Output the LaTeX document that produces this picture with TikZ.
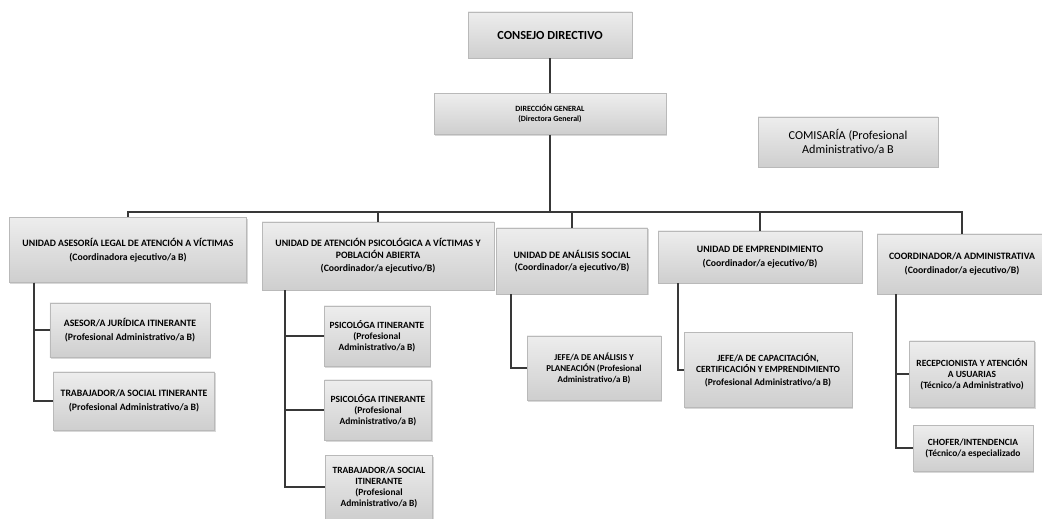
\documentclass[tikz,border=0pt]{standalone}
\usepackage{fontspec}
\setmainfont{Carlito}
\usetikzlibrary{shadows}

\begin{document}
\begin{tikzpicture}
[-,x=1bp,y=-1bp,%
  lineDecorate/.style={-,line width=2.2bp,draw=black!78},%
  boxDecorate/.style={shape=rectangle,draw=gray!55,top color=gray!14,bottom color=gray!38,%
    drop shadow={opacity=0.3,shadow xshift=1bp,shadow yshift=-1.5bp},%
    align=center,inner sep=2pt,font=\fontsize{9.8}{11.5}\selectfont\bfseries},%
  smallBox/.style={boxDecorate,font=\fontsize{9.5}{11}\selectfont\bfseries}]
\fill[white] (0,0) rectangle (1042,519);
\useasboundingbox (0,0) rectangle (1042,519);
%% top of the chart
\node[boxDecorate,minimum width=164bp,minimum height=46bp,font=\fontsize{12.4}{14}\selectfont\bfseries]
  (consejo) at (550,35) {CONSEJO DIRECTIVO};
\node[boxDecorate,minimum width=232bp,minimum height=41bp,font=\fontsize{8}{10}\selectfont\bfseries]
  (direccion) at (550,114) {DIRECCIÓN GENERAL\\(Directora General)};
\node[boxDecorate,minimum width=180bp,minimum height=50bp,font=\fontsize{12.2}{14}\selectfont]
  (comisaria) at (848,142) {COMISARÍA (Profesional\\Administrativo/a B};
%% units
\node[boxDecorate,minimum width=237bp,minimum height=65bp] (u1) at (128,250)
  {UNIDAD ASESORÍA LEGAL DE ATENCIÓN A VÍCTIMAS\\[3pt](Coordinadora ejecutivo/a B)};
\node[boxDecorate,minimum width=232bp,minimum height=68bp] (u2) at (378,256)
  {UNIDAD DE ATENCIÓN PSICOLÓGICA A VÍCTIMAS Y\\POBLACIÓN ABIERTA\\[2pt](Coordinador/a ejecutivo/B)};
\node[boxDecorate,minimum width=151bp,minimum height=66bp] (u3) at (572,261)
  {UNIDAD DE ANÁLISIS SOCIAL\\(Coordinador/a ejecutivo/B)};
\node[boxDecorate,minimum width=204bp,minimum height=52bp] (u4) at (760,257)
  {UNIDAD DE EMPRENDIMIENTO\\[2pt](Coordinador/a ejecutivo/B)};
\node[boxDecorate,minimum width=170bp,minimum height=60bp] (u5) at (962,264)
  {COORDINADOR/A ADMINISTRATIVA\\[2pt](Coordinador/a ejecutivo/B)};
%% posts
\node[boxDecorate,minimum width=160bp,minimum height=54bp] (a1) at (130,330)
  {ASESOR/A JURÍDICA ITINERANTE\\[2pt](Profesional Administrativo/a B)};
\node[boxDecorate,minimum width=161bp,minimum height=58bp] (a2) at (134,401)
  {TRABAJADOR/A SOCIAL ITINERANTE\\[2pt](Profesional Administrativo/a B)};
\node[smallBox,minimum width=106bp,minimum height=60bp] (b1) at (377,336)
  {PSICOLÓGA ITINERANTE\\(Profesional\\Administrativo/a B)};
\node[smallBox,minimum width=107bp,minimum height=60bp] (b2) at (378,410)
  {PSICOLÓGA ITINERANTE\\(Profesional\\Administrativo/a B)};
\node[smallBox,minimum width=107bp,minimum height=64bp] (b3) at (379,487)
  {TRABAJADOR/A SOCIAL\\ITINERANTE\\(Profesional\\Administrativo/a B)};
\node[smallBox,minimum width=134bp,minimum height=64bp,font=\fontsize{9}{11}\selectfont\bfseries] (c1) at (594,368)
  {JEFE/A DE ANÁLISIS Y\\PLANEACIÓN (Profesional\\Administrativo/a B)};
\node[smallBox,minimum width=168bp,minimum height=75bp] (d1) at (768,370)
  {JEFE/A DE CAPACITACIÓN,\\CERTIFICACIÓN Y EMPRENDIMIENTO\\[2pt](Profesional Administrativo/a B)};
\node[smallBox,minimum width=125bp,minimum height=66bp] (e1) at (972,374)
  {RECEPCIONISTA Y ATENCIÓN\\A USUARIAS\\(Técnico/a Administrativo)};
\node[smallBox,minimum width=120bp,minimum height=46bp] (e2) at (973,448)
  {CHOFER/INTENDENCIA\\(Técnico/a especializado};
%% connectors
\coordinate (bus) at (550,212);
\path[lineDecorate] (consejo) edge (direccion) (direccion) edge (bus);
\foreach \unitname in {u1,u2,u3,u4,u5}
  \draw[lineDecorate] (bus) -| (\unitname.north);
\path (u1.south west) ++(25,0) coordinate (s1);
\path (u2.south west) ++(23,0) coordinate (s2);
\path (u3.south west) ++(15,0) coordinate (s3);
\path (u4.south west) ++(20,0) coordinate (s4);
\path (u5.south west) ++(19,0) coordinate (s5);
\foreach \spine/\post in {s1/a1,s1/a2,s2/b1,s2/b2,s2/b3,s3/c1,s4/d1,s5/e1,s5/e2}
  \draw[lineDecorate] (\spine) |- (\post.west);
\end{tikzpicture}
\end{document}
